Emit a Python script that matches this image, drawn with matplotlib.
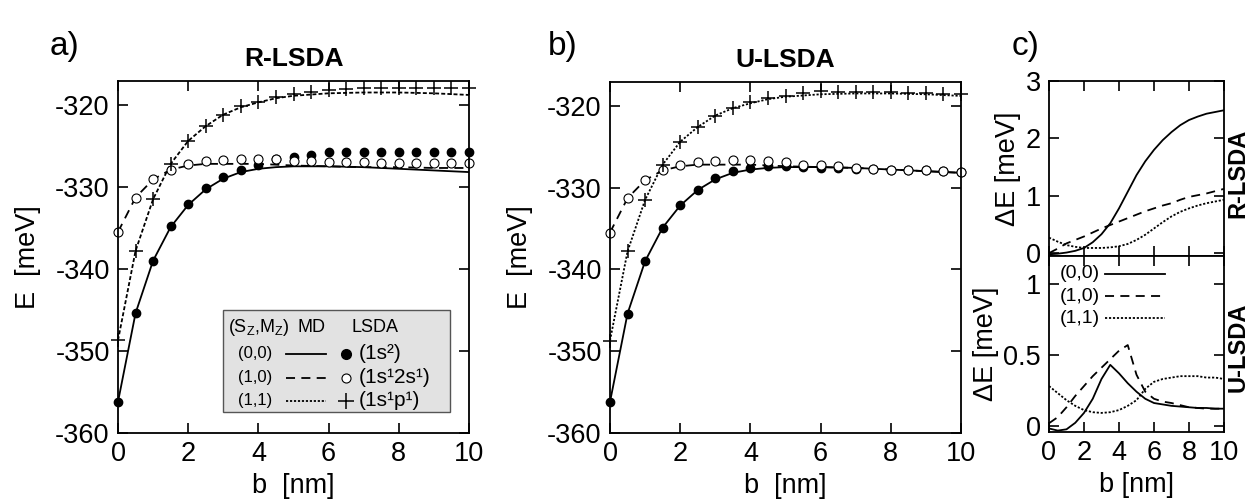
import matplotlib
matplotlib.use("Agg")
import matplotlib.pyplot as plt
from matplotlib.patches import Rectangle
from matplotlib.lines import Line2D

plt.rcParams['font.family'] = ['Liberation Sans', 'DejaVu Sans']
plt.rcParams['mathtext.fontset'] = 'custom'
plt.rcParams['mathtext.rm'] = 'Liberation Sans'
plt.rcParams['mathtext.it'] = 'Liberation Sans'
plt.rcParams['axes.linewidth'] = 1.3
plt.rcParams['axes.unicode_minus'] = False

# ---------------- data ----------------
b_pts = [0, 0.5, 1, 1.5, 2, 2.5, 3, 3.5, 4, 4.5, 5, 5.5, 6, 6.5, 7, 7.5, 8, 8.5, 9, 9.5, 10]
b_md = [0, 0.5, 1, 1.5, 2, 2.5, 3, 3.5, 4, 4.5, 5, 6, 7, 8, 9, 10]

# panel a (R-LSDA)
a_00_lsda = [-356.2, -345.4, -339.0, -334.8, -332.1, -330.2, -328.8, -327.9, -327.3, -326.6, -326.4,
             -326.1, -325.8, -325.8, -325.7, -325.7, -325.7, -325.7, -325.7, -325.7, -325.7]
a_10_lsda = [-335.5, -331.3, -329.1, -327.9, -327.2, -326.9, -326.7, -326.6, -326.6, -326.6, -326.8,
             -326.9, -327.0, -327.0, -327.0, -327.1, -327.1, -327.1, -327.1, -327.1, -327.1]
a_11_lsda = [-348.7, -337.8, -331.5, -327.2, -324.4, -322.6, -321.2, -320.2, -319.6, -319.1, -318.7,
             -318.5, -318.2, -318.1, -318.0, -318.0, -317.9, -317.9, -317.9, -317.9, -317.9]
a_00_md = [-356.2, -345.4, -339.0, -334.9, -332.2, -330.3, -329.0, -328.2, -327.8, -327.6, -327.5,
           -327.5, -327.6, -327.8, -328.0, -328.2]
a_10_md = [-335.5, -331.3, -329.1, -327.9, -327.4, -327.2, -327.2, -327.2, -327.2, -327.3, -327.4,
           -327.5, -327.6, -327.6, -327.7, -327.7]
a_11_md = [-348.7, -337.8, -331.5, -327.2, -324.4, -322.6, -321.2, -320.3, -319.7, -319.2, -318.9,
           -318.6, -318.5, -318.5, -318.6, -318.8]

# panel b (U-LSDA)
b_00_lsda = [-356.2, -345.4, -339.0, -334.9, -332.1, -330.3, -328.8, -328.0, -327.6, -327.4, -327.4,
             -327.5, -327.6, -327.6, -327.7, -327.7, -327.8, -327.8, -327.9, -328.0, -328.1]
b_10_lsda = [-335.5, -331.3, -329.1, -327.8, -327.2, -326.9, -326.7, -326.6, -326.6, -326.7, -326.9,
             -327.2, -327.3, -327.4, -327.6, -327.7, -327.8, -327.8, -327.9, -328.0, -328.1]
b_11_lsda = [-348.7, -337.8, -331.5, -327.2, -324.4, -322.6, -321.2, -320.3, -319.6, -319.1, -318.8,
             -318.4, -318.2, -318.3, -318.3, -318.3, -318.3, -318.5, -318.5, -318.6, -318.6]
b_00_md = [-356.2, -345.4, -339.0, -334.9, -332.2, -330.3, -329.0, -328.2, -327.8, -327.6, -327.5,
           -327.5, -327.6, -327.8, -328.0, -328.2]
b_10_md = [-335.5, -331.3, -329.1, -327.9, -327.4, -327.2, -327.2, -327.2, -327.2, -327.3, -327.4,
           -327.5, -327.6, -327.8, -328.0, -328.2]
b_11_md = [-348.7, -337.8, -331.5, -327.2, -324.4, -322.6, -321.2, -320.3, -319.7, -319.2, -318.9,
           -318.6, -318.5, -318.5, -318.6, -318.8]

# panel c: Delta E
b_c = b_pts
r_00 = [-0.02, -0.01, 0.01, 0.04, 0.09, 0.19, 0.33, 0.52, 0.78, 1.07, 1.36, 1.60, 1.80, 1.97, 2.11,
        2.23, 2.32, 2.38, 2.43, 2.46, 2.49]
r_10 = [0.0, 0.08, 0.17, 0.23, 0.29, 0.36, 0.43, 0.49, 0.55, 0.61, 0.67, 0.73, 0.78, 0.83, 0.87,
        0.93, 0.98, 1.01, 1.04, 1.08, 1.12]
r_11 = [0.27, 0.20, 0.14, 0.11, 0.09, 0.09, 0.09, 0.10, 0.12, 0.16, 0.23, 0.32, 0.43, 0.54, 0.64,
        0.72, 0.78, 0.83, 0.87, 0.90, 0.93]
u_00 = [-0.02, -0.035, -0.026, 0.02, 0.09, 0.19, 0.33, 0.43, 0.37, 0.30, 0.24, 0.19, 0.16, 0.15,
        0.14, 0.135, 0.13, 0.125, 0.125, 0.12, 0.12]
u_10 = [0.017, 0.06, 0.13, 0.21, 0.28, 0.35, 0.41, 0.47, 0.53, 0.57, 0.36, 0.24, 0.19, 0.17, 0.16,
        0.145, 0.13, 0.125, 0.12, 0.12, 0.12]
u_11 = [0.28, 0.23, 0.18, 0.14, 0.11, 0.095, 0.09, 0.095, 0.11, 0.14, 0.18, 0.26, 0.31, 0.33, 0.34,
        0.35, 0.35, 0.35, 0.34, 0.34, 0.33]

xticks = [0, 2, 4, 6, 8, 10]
yticks_E = [-360, -350, -340, -330, -320]
state_labels = ['(0,0)', '(1,0)', '(1,1)']
lsda_labels = ['(1s\u00b2)', '(1s\u00b92s\u00b9)', '(1s\u00b9p\u00b9)']

# ---------------- styles ----------------
LS_SOLID = '-'
LS_DASH = (0, (5, 3.5))
LS_DOT_A = (0, (2.2, 1.2))
LS_DOT = (0, (1.2, 1.0))
TICK_FS = 19.5
LAB_FS = 19.5


def style_axes(ax):
    ax.tick_params(direction='in', top=True, right=True, length=7, width=1.2,
                   labelsize=TICK_FS, pad=6)


fig = plt.figure(figsize=(12.5, 5.04), dpi=100)
W, H = 1250.0, 504.0


def add_ax(x0, y0, x1, y1):
    return fig.add_axes([x0 / W, 1 - y1 / H, (x1 - x0) / W, (y1 - y0) / H])


def energy_panel(ax, md, lsda, dot_style, title):
    ax.plot(b_md, md[0], color='k', lw=1.3, ls=LS_SOLID)
    ax.plot(b_md, md[1], color='k', lw=1.3, ls=LS_DASH)
    ax.plot(b_md, md[2], color='k', lw=1.3, ls=dot_style)
    ax.plot(b_pts, lsda[0], 'o', ms=6, color='k', clip_on=False)
    ax.plot(b_pts, lsda[1], 'o', ms=6.5, mfc='white', mec='k', mew=0.8, clip_on=False)
    ax.plot(b_pts, lsda[2], '+', ms=10, mew=1.1, color='k', clip_on=False)
    ax.set_xlim(0, 10)
    ax.set_ylim(-360, -317.1)
    ax.set_xticks(xticks)
    ax.set_yticks(yticks_E)
    style_axes(ax)
    ax.set_xlabel('b  [nm]', fontsize=LAB_FS, labelpad=4)
    ax.set_ylabel('E  [meV]', fontsize=LAB_FS, labelpad=10)
    ax.set_title(title, fontsize=19, fontweight='bold', pad=11)


axA = add_ax(118, 81, 469, 433)
energy_panel(axA, [a_00_md, a_10_md, a_11_md], [a_00_lsda, a_10_lsda, a_11_lsda], LS_DOT_A, 'R-LSDA')
axB = add_ax(610, 82, 961, 433)
energy_panel(axB, [b_00_md, b_10_md, b_11_md], [b_00_lsda, b_10_lsda, b_11_lsda], LS_DOT, 'U-LSDA')

# legend box in panel a
bx0, bx1, by0, by1 = 0.3, 0.945, 0.06, 0.35
axA.add_patch(Rectangle((bx0, by0), bx1 - bx0, by1 - by0, transform=axA.transAxes,
                        facecolor='#e2e2e2', edgecolor='#555555', lw=1.0, zorder=5))


def bxy(fx, fy):
    return bx0 + fx * (bx1 - bx0), by1 - fy * (by1 - by0)


hx, hy = bxy(0.02, 0.17)
axA.text(hx, hy, r'(S$_\mathregular{Z}$,M$_\mathregular{Z}$)', transform=axA.transAxes,
         fontsize=13, ha='left', va='center', zorder=6)
mx, _ = bxy(0.39, 0.17)
axA.text(mx, hy, 'MD', transform=axA.transAxes, fontsize=13, ha='center', va='center', zorder=6)
lx, _ = bxy(0.67, 0.17)
axA.text(lx, hy, 'LSDA', transform=axA.transAxes, fontsize=13, ha='center', va='center', zorder=6)
row_fy = [0.43, 0.665, 0.89]
row_ls = [LS_SOLID, LS_DASH, LS_DOT]
for i in range(3):
    x_lab, y_r = bxy(0.14, row_fy[i])
    axA.text(x_lab, y_r, state_labels[i], transform=axA.transAxes, fontsize=12,
             ha='center', va='center', zorder=6)
    xa, _ = bxy(0.275, 0)
    xb, _ = bxy(0.455, 0)
    axA.add_line(Line2D([xa, xb], [y_r, y_r], transform=axA.transAxes, color='k', lw=1.3,
                        ls=row_ls[i], zorder=6))
    xm, _ = bxy(0.54, 0)
    if i == 0:
        axA.plot([xm], [y_r], 'o', ms=7, color='k', transform=axA.transAxes, zorder=6, clip_on=False)
    elif i == 1:
        axA.plot([xm], [y_r], 'o', ms=6.5, mfc='white', mec='k', mew=0.8, transform=axA.transAxes,
                 zorder=6, clip_on=False)
    else:
        axA.plot([xm], [y_r], '+', ms=11, mew=1.1, color='k', transform=axA.transAxes, zorder=6,
                 clip_on=False)
    xt, _ = bxy(0.6, 0)
    axA.text(xt, y_r, lsda_labels[i], transform=axA.transAxes, fontsize=15,
             ha='left', va='center', zorder=6)

# panel c
axC1 = add_ax(1049, 81, 1224, 256)
axC2 = add_ax(1049, 256, 1224, 432)
for ax, ys, ylim, yt, ytl in [
        (axC1, [r_00, r_10, r_11], (-0.05, 3.0), [0, 1, 2, 3], ['0', '1', '2', '3']),
        (axC2, [u_00, u_10, u_11], (-0.045, 1.2), [0, 0.5, 1], ['0', '0.5', '1'])]:
    ax.plot(b_c, ys[0], color='k', lw=1.3, ls=LS_SOLID)
    ax.plot(b_c, ys[1], color='k', lw=1.3, ls=LS_DASH)
    ax.plot(b_c, ys[2], color='k', lw=1.3, ls=LS_DOT)
    ax.set_xlim(0, 10)
    ax.set_ylim(*ylim)
    ax.set_xticks(xticks)
    ax.set_yticks(yt)
    ax.set_yticklabels(ytl)
    style_axes(ax)
    ax.set_ylabel('\u0394E [meV]', fontsize=LAB_FS, labelpad=3)
axC1.tick_params(labelbottom=False)
axC2.set_xlabel('b [nm]', fontsize=LAB_FS, labelpad=4)

leg_y = [0.9, 0.772, 0.645]
for i in range(3):
    axC2.text(0.29, leg_y[i], state_labels[i], transform=axC2.transAxes, fontsize=14,
              ha='right', va='center')
    axC2.add_line(Line2D([0.32, 0.665], [leg_y[i], leg_y[i]], transform=axC2.transAxes,
                         color='k', lw=1.3, ls=row_ls[i]))

fig.text(1238 / W, 1 - 173 / H, 'R-LSDA', rotation=90, fontsize=17, fontweight='bold',
         ha='center', va='center')
fig.text(1238 / W, 1 - 347 / H, 'U-LSDA', rotation=90, fontsize=17, fontweight='bold',
         ha='center', va='center')

# panel letters
fig.text(50 / W, 1 - 47 / H, 'a)', fontsize=24, ha='left', va='center')
fig.text(548 / W, 1 - 47 / H, 'b)', fontsize=24, ha='left', va='center')
fig.text(1012 / W, 1 - 47 / H, 'c)', fontsize=24, ha='left', va='center')

fig.savefig('out.png', dpi=100, facecolor='white')
